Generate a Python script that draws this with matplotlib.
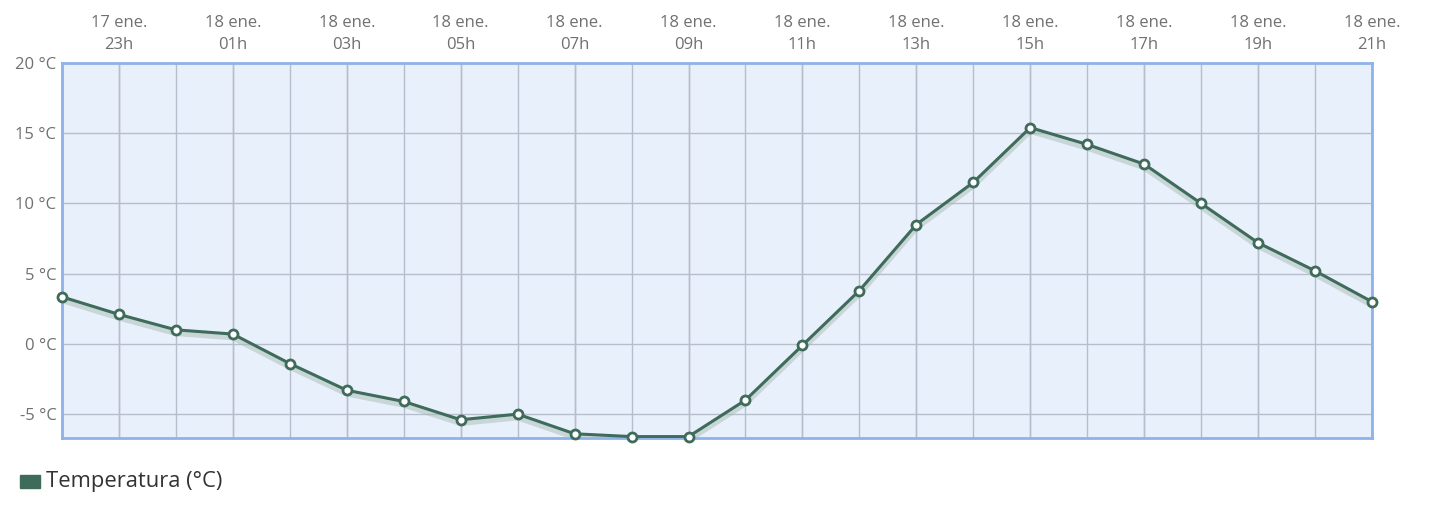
import numpy as np
import matplotlib.pyplot as plt
import matplotlib.patheffects as pe
from matplotlib.patches import Rectangle

plt.rcParams['font.family'] = ['Open Sans', 'DejaVu Sans']

hours = ['22h', '23h', '00h', '01h', '02h', '03h', '04h', '05h', '06h', '07h', '08h', '09h',
         '10h', '11h', '12h', '13h', '14h', '15h', '16h', '17h', '18h', '19h', '20h', '21h']
days = ['17 ene.', '17 ene.'] + ['18 ene.'] * 22
temps = [3.35, 2.1, 1.0, 0.7, -1.4, -3.3, -4.1, -5.4, -5.0, -6.4, -6.6, -6.6,
         -4.0, -0.1, 3.8, 8.5, 11.5, 15.4, 14.2, 12.8, 10.0, 7.2, 5.2, 3.0]
yticks = [-5, 0, 5, 10, 15, 20]

line_col = '#3f6b5b'
txt_col = '#707070'
grid_col = '#b6bdcb'

fig = plt.figure(figsize=(14.44, 5.14), dpi=100)
ax = fig.add_axes([62 / 1444, 76 / 514, 1310 / 1444, 375 / 514])
ax.set_facecolor('#e8f0fb')

x = np.arange(len(temps))
ax.plot(x, temps, color=line_col, lw=2.2, zorder=3,
        path_effects=[pe.SimpleLineShadow(offset=(0, -2.5), shadow_color='#a9bdb6', alpha=0.5, linewidth=4),
                      pe.Normal()])
ax.plot(x, temps, 'o', ms=6.5, mfc='white', mec=line_col, mew=2, zorder=4, clip_on=False)

ax.set_xlim(0, len(temps) - 1)
ax.set_ylim(-6.7, 20)
ax.xaxis.remove_overlapping_locs = False
ax.set_xticks(x, minor=True)
ax.grid(True, which='minor', axis='x', color=grid_col, lw=1)
ax.set_yticks(yticks)
ax.set_yticklabels(['%d °C' % v for v in yticks])
ax.grid(True, which='major', axis='y', color=grid_col, lw=1)
ax.set_axisbelow(True)

top = x[1::2]
ax.set_xticks(top)
ax.set_xticklabels(['%s\n%s' % (days[i], hours[i]) for i in top], linespacing=1.55)
ax.xaxis.tick_top()
ax.tick_params(axis='x', which='both', length=0, pad=7, labelsize=12, colors=txt_col)
ax.tick_params(axis='y', length=0, pad=4, labelsize=12, colors=txt_col)
ax.grid(True, which='major', axis='x', color=grid_col, lw=1)

for s in ax.spines.values():
    s.set_color('#8fb2ea')
    s.set_linewidth(2)

fig.patches.append(Rectangle((20 / 1444, (514 - 488) / 514), 20 / 1444, 13 / 514,
                             transform=fig.transFigure, color=line_col))
fig.text(46 / 1444, (514 - 481) / 514, 'Temperatura (°C)', fontsize=15.8, color='#333333', va='center')

fig.savefig('out.png', dpi=100)
